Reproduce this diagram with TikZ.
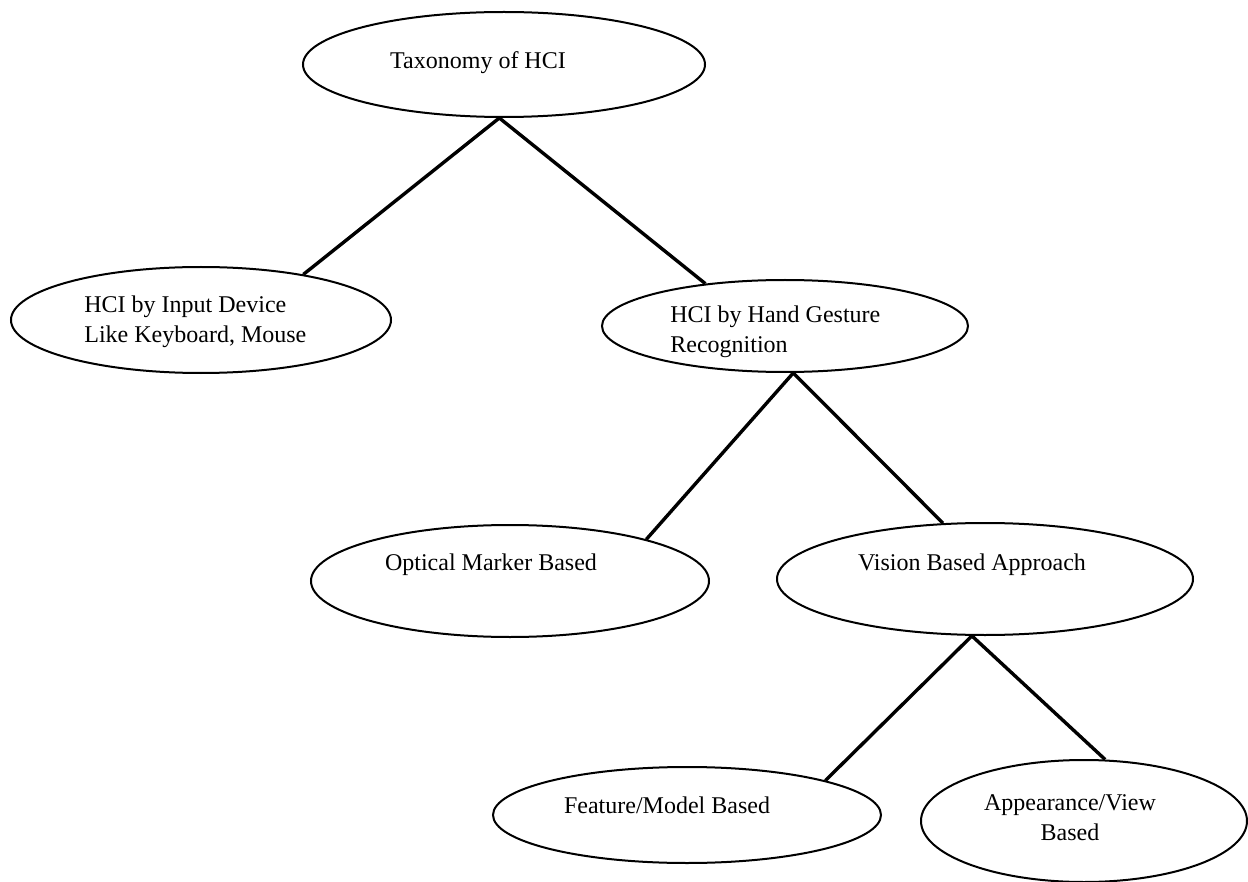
\documentclass[tikz,border=0pt]{standalone}
\usepackage{fontspec}
\setmainfont{Liberation Serif}
\usetikzlibrary{shapes.geometric}
\begin{document}
\begin{tikzpicture}[x=0.5pt,y=-0.5pt,
  oval/.style={draw, ellipse, line width=1pt, inner sep=0pt},
  txt/.style={font=\fontsize{12}{14.8}\selectfont, inner sep=0pt},
  link/.style={line width=1.7pt}]
\useasboundingbox (0,0) rectangle (1248,882);
% ellipses
\node[oval, minimum width=201pt, minimum height=52.5pt] (e1) at (504,64.5) {};
\node[oval, minimum width=190pt, minimum height=53pt] (e2) at (201,320) {};
\node[oval, minimum width=183pt, minimum height=46pt] (e3) at (785,326) {};
\node[oval, minimum width=199pt, minimum height=56pt] (e4) at (510,581) {};
\node[oval, minimum width=208pt, minimum height=56pt] (e5) at (985,579) {};
\node[oval, minimum width=194pt, minimum height=48pt] (e6) at (687,815) {};
\node[oval, minimum width=163pt, minimum height=61pt] (e7) at (1084,821) {};
% texts
\node[txt] (t1) at (478,63) {Taxonomy of HCI};
\node[txt, align=left, anchor=west] (t2) at (84,322) {HCI by Input Device\\Like Keyboard, Mouse};
\node[txt, align=left, anchor=west] (t3) at (670,332) {HCI by Hand Gesture\\Recognition};
\node[txt] (t4) at (491,565) {Optical Marker Based};
\node[txt] (t5) at (972,565) {Vision Based Approach};
\node[txt] (t6) at (667,805) {Feature/Model Based};
\node[txt, align=center] (t7) at (1070,817.5) {Appearance/View\\Based};
% connectors
\draw[link] (e1.-95) -- (e2.24);
\draw[link] (e1.-95) -- (e3.152);
\draw[link] (e3.-80) -- (e4.17);
\draw[link] (e3.-80) -- (e5.127);
\draw[link] (e5.-103) -- (e6.14);
\draw[link] (e5.-103) -- (e7.71);
\end{tikzpicture}
\end{document}
